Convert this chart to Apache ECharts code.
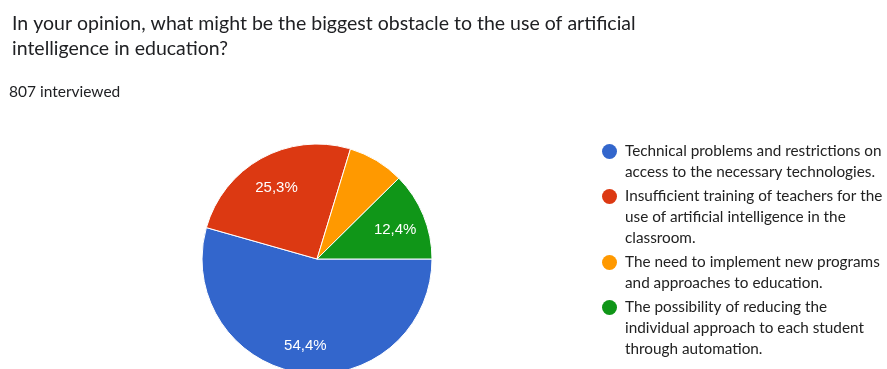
<!DOCTYPE html>
<html>
<head>
<meta charset="utf-8">
<script src="https://cdn.jsdelivr.net/npm/echarts@6/dist/echarts.min.js"></script>
<style>
html,body{margin:0;padding:0;background:#fff;}
#chart{width:887px;height:369px;}
</style>
</head>
<body>
<div id="chart"></div>
<script>
const titleText = 'In your opinion, what might be the biggest obstacle to the use of artificial\nintelligence in education?';
const subtitleText = '807 interviewed';
const categoryLines = [
  ['Technical problems and restrictions on', 'access to the necessary technologies.'],
  ['Insufficient training of teachers for the', 'use of artificial intelligence in the', 'classroom.'],
  ['The need to implement new programs', 'and approaches to education.'],
  ['The possibility of reducing the', 'individual approach to each student', 'through automation.']
];
const categories = categoryLines.map(l => l.join(' '));
const values = [54.4, 25.3, 7.9, 12.4];
const colors = ['#3366cc', '#dc3912', '#ff9900', '#109618'];

const fmt = v => v.toFixed(1).replace('.', ',') + '%';

const rich = {
  t: {fontFamily: 'Lato', fontSize: 15.3, lineHeight: 21, color: '#222'},
  g: {width: 8, height: 15},
  s: {width: 23, height: 15}
};
colors.forEach((c, i) => {
  rich['d' + i] = {width: 15, height: 15, borderRadius: 7.5, backgroundColor: c};
});

const chart = echarts.init(document.getElementById('chart'), null, {renderer: 'canvas'});
chart.setOption({
  backgroundColor: '#fff',
  animation: false,
  title: [
    {
      text: titleText,
      left: 7,
      top: 6,
      textStyle: {fontFamily: 'Lato', fontSize: 19.5, fontWeight: 'normal', color: '#202124', lineHeight: 25}
    },
    {
      text: subtitleText,
      left: 4,
      top: 77,
      textStyle: {fontFamily: 'Lato', fontSize: 15.5, fontWeight: 'normal', color: '#202124', lineHeight: 20}
    }
  ],
  legend: {
    orient: 'vertical',
    left: 591,
    top: 136,
    height: 240,
    itemWidth: 0,
    itemHeight: 0,
    itemGap: 3,
    itemStyle: {opacity: 0},
    selectedMode: false,
    data: categories,
    formatter: function (name) {
      const idx = categories.indexOf(name);
      return categoryLines[idx].map((l, i) => (i === 0 ? '{d' + idx + '|}{g|}' : '{s|}') + '{t|' + l + '}').join('\n');
    },
    textStyle: {fontFamily: 'Lato', fontSize: 15.3, lineHeight: 21, color: '#222', rich: rich}
  },
  color: colors,
  series: [
    {
      type: 'pie',
      center: [317, 259],
      radius: [0, 115],
      startAngle: 0,
      clockwise: true,
      label: {show: false},
      labelLine: {show: false},
      itemStyle: {borderColor: '#fff', borderWidth: 1},
      emphasis: {disabled: true},
      data: categories.map((n, i) => ({name: n, value: values[i]}))
    },
    {
      type: 'pie',
      center: [317, 262],
      radius: [48, 115],
      startAngle: 0,
      clockwise: true,
      silent: true,
      itemStyle: {color: 'rgba(0,0,0,0)'},
      labelLine: {show: false},
      emphasis: {disabled: true},
      label: {
        show: true,
        position: 'inside',
        color: '#fff',
        fontFamily: 'Liberation Sans',
        fontSize: 15,
        formatter: p => fmt(p.value)
      },
      data: categories.map((n, i) => ({name: n, value: values[i], label: {show: values[i] >= 10}}))
    }
  ]
});
</script>
</body>
</html>
